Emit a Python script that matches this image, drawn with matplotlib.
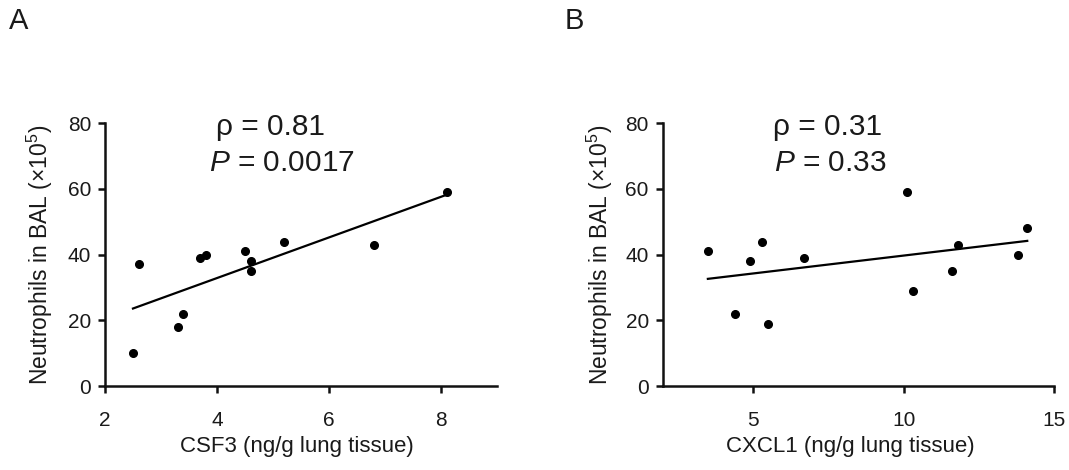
import numpy as np
from matplotlib import pyplot as plt

plt.rcParams["font.family"] = ["Liberation Sans", "DejaVu Sans"]
plt.rcParams["mathtext.fontset"] = "custom"
plt.rcParams["mathtext.rm"] = "Liberation Sans"
plt.rcParams["mathtext.it"] = "Liberation Sans:italic"

# panel A: CSF3 vs neutrophils
csf3 = [2.5, 2.6, 3.3, 3.4, 3.7, 3.8, 4.5, 4.6, 4.6, 5.2, 6.8, 8.1]
neut_a = [10, 37, 18, 22, 39, 40, 41, 38, 35, 44, 43, 59]

# panel B: CXCL1 vs neutrophils
cxcl1 = [3.5, 4.4, 4.9, 5.3, 5.5, 6.7, 10.1, 10.3, 11.6, 11.8, 13.8, 14.1]
neut_b = [41, 22, 38, 44, 19, 39, 59, 29, 35, 43, 40, 48]

yticks = [0, 20, 40, 60, 80]
xticks_a = [2, 4, 6, 8]
xticks_b = [5, 10, 15]

fig = plt.figure(figsize=(10.69, 4.7), dpi=100)
axA = fig.add_axes([0.0982, 0.1787, 0.3667, 0.559])
axB = fig.add_axes([0.6199, 0.1787, 0.3664, 0.559])

txtcol = "#1a1a1a"

def panel(ax, x, y, xlim, xticks, xlabel, xlab_x):
    ax.plot(x, y, 'o', color='black', markersize=5.5, zorder=3)
    m, b = np.polyfit(x, y, 1)
    xs = np.array([min(x), max(x)])
    ax.plot(xs, m*xs + b, color='black', lw=1.6)
    ax.set_xlim(*xlim)
    ax.set_ylim(0, 80)
    ax.set_xticks(xticks)
    ax.set_yticks(yticks)
    for s in ['top', 'right']:
        ax.spines[s].set_visible(False)
    for s in ['left', 'bottom']:
        ax.spines[s].set_linewidth(1.8)
        ax.spines[s].set_color('#111111')
    ax.tick_params(axis='both', width=1.8, length=5, labelsize=15, colors='#111111', labelcolor=txtcol)
    ax.tick_params(axis='x', pad=13)
    ax.tick_params(axis='y', pad=5)
    ax.set_xlabel(xlabel, fontsize=16, color=txtcol)
    ax.xaxis.set_label_coords(xlab_x, -0.19)
    ax.set_ylabel(r'Neutrophils in BAL ($\times$10$^5$)', fontsize=16.5, color=txtcol)

panel(axA, csf3, neut_a, (2, 9), xticks_a, 'CSF3 (ng/g lung tissue)', 0.49)
axA.yaxis.set_label_coords(-0.128, 0.5)
panel(axB, cxcl1, neut_b, (2, 15), xticks_b, 'CXCL1 (ng/g lung tissue)', 0.48)
axB.yaxis.set_label_coords(-0.122, 0.5)

# stats text
fig.text(271/1069, 1-127/470, 'ρ = 0.81', fontsize=21.5, ha='center', va='center', color=txtcol)
fig.text(282/1069, 1-163/470, r'$P$ = 0.0017', fontsize=21.5, ha='center', va='center', color=txtcol)
fig.text(773/1069, 1-127/470, 'ρ = 0.31', fontsize=21.5, ha='left', va='center', color=txtcol)
fig.text(774/1069, 1-163/470, r'$P$ = 0.33', fontsize=21.5, ha='left', va='center', color=txtcol)

# panel letters
fig.text(9/1069, 1-21/470, 'A', fontsize=21, ha='left', va='center', color=txtcol)
fig.text(565/1069, 1-21/470, 'B', fontsize=21, ha='left', va='center', color=txtcol)

plt.savefig('out.png', dpi=100)
